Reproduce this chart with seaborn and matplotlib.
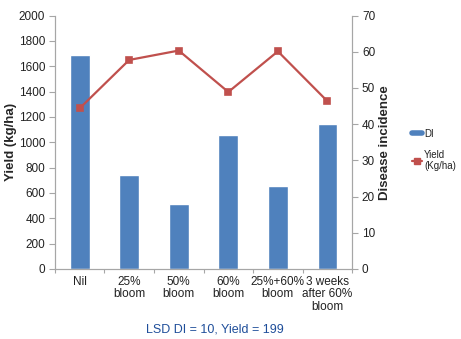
import matplotlib
matplotlib.use("Agg")
import matplotlib.pyplot as plt
from matplotlib.lines import Line2D
from matplotlib.ticker import FixedLocator
import seaborn as sns
import pandas as pd
import numpy as np

categories = ["Nil", "25%\nbloom", "50%\nbloom", "60%\nbloom", "25%+60%\nbloom", "3 weeks\nafter 60%\nbloom"]
di_values = [59, 26, 18, 37, 23, 40]
yield_values = [1268, 1650, 1724, 1397, 1718, 1324]

sns.set_theme(style="white")
plt.rcParams['font.family'] = ['Liberation Sans', 'DejaVu Sans']

bar_color = "#4F81BD"
line_color = "#C0504D"
spine_color = "#A6A6A6"
text_color = "#222222"

df = pd.DataFrame({"cat": categories, "DI": di_values, "Yield": yield_values})

fig = plt.figure(figsize=(4.61, 3.39), dpi=100)
ax = fig.add_axes([0.119, 0.2065, 0.645, 0.7475])

sns.barplot(data=df, x="cat", y="DI", color=bar_color, width=0.4, saturation=1, ax=ax, order=categories)
ax2 = ax.twinx()
sns.pointplot(data=df, x="cat", y="Yield", color=line_color, markers="s", markersize=4,
              linewidth=1.6, ax=ax2, order=categories)

# bars -> right axis (Disease incidence)
ax.set_ylim(0, 70)
ax.set_xlim(-0.5, 5.5)
ax.set_yticks(np.arange(0, 71, 10))
ax.yaxis.set_label_position("right")
ax.tick_params(axis="y", left=False, labelleft=False, right=True, labelright=True)
ax.set_ylabel("Disease incidence", fontsize=9.5, fontweight="bold", labelpad=3)
ax.set_xlabel("")

# line -> left axis (Yield)
ax2.set_ylim(0, 2000)
ax2.set_xlim(-0.5, 5.5)
ax2.set_yticks(np.arange(0, 2001, 200))
ax2.yaxis.set_label_position("left")
ax2.tick_params(axis="y", left=True, labelleft=True, right=False, labelright=False)
ax2.set_ylabel("Yield (kg/ha)", fontsize=9.5, fontweight="bold", labelpad=1)
ax2.set_xlabel("")

for a in (ax, ax2):
    a.spines["top"].set_visible(False)
    for s in ["left", "right", "bottom"]:
        a.spines[s].set_color(spine_color)
        a.spines[s].set_linewidth(0.8)
    a.tick_params(axis="y", labelsize=8.5, labelcolor=text_color, color=spine_color,
                  length=4, width=0.8, pad=3)

ax.set_xticks(range(len(categories)))
ax.set_xticklabels(categories, fontsize=8.5, color=text_color, linespacing=1.05)
ax.tick_params(axis="x", length=0, pad=5)
ax.xaxis.set_minor_locator(FixedLocator(np.arange(-0.5, 6, 1)))
ax.tick_params(axis="x", which="minor", length=3, width=0.8, color=spine_color, bottom=True)
ax2.tick_params(axis="x", which="both", bottom=False, labelbottom=False)

handles = [
    Line2D([0], [0], color=bar_color, lw=4),
    Line2D([0], [0], color=line_color, lw=1.6, marker="s", markersize=4),
]
fig.legend(handles, ["DI", "Yield\n(Kg/ha)"], loc="upper left", bbox_to_anchor=(0.893, 0.62),
           frameon=False, fontsize=7, handlelength=1.1, handletextpad=0.2, labelspacing=1.1,
           labelcolor=text_color, borderaxespad=0, borderpad=0)

fig.text(0.467, 0.028, "LSD DI = 10, Yield = 199", color="#1F4E9A", fontsize=9, ha="center", va="center")

fig.savefig("out.png", dpi=100)
